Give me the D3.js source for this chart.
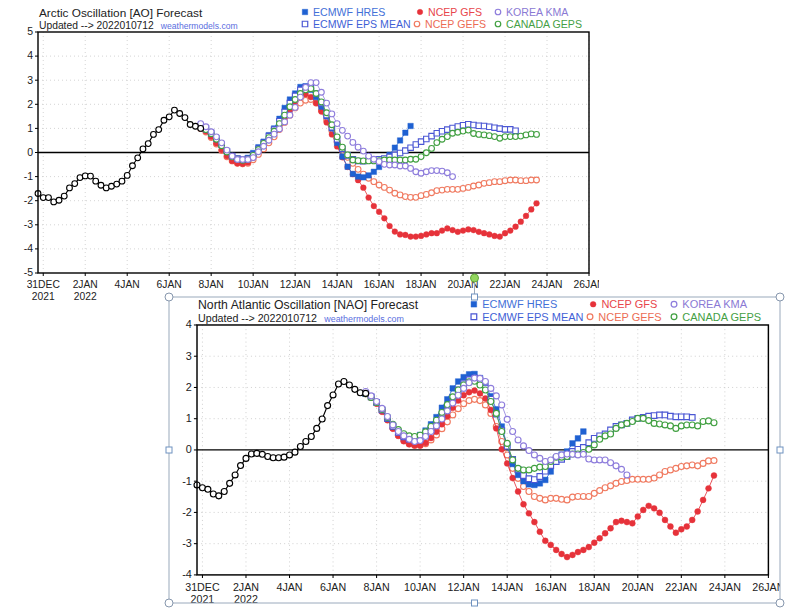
<!DOCTYPE html>
<html>
<head>
<meta charset="utf-8">
<script src="https://cdn.jsdelivr.net/npm/d3@7"></script>
<style>
    html, body { margin: 0; padding: 0; background: #fff; }
    svg { display: block; }
    .hdr { font-family: "Liberation Sans", Arial, sans-serif; fill: #222; }
    .lbl { font-family: "Liberation Sans", Arial, sans-serif; font-size: 10.5px; fill: #222; }
    .xl { font-size: 10.3px; }
</style>
</head>
<body>
<svg id="page" width="800" height="615"></svg>
<script>
// time axis (6-hourly steps)
const axisStart = Date.UTC(2021, 11, 30, 18);
const axisEnd = Date.UTC(2022, 0, 26, 0);
const analysisStart = Date.UTC(2021, 11, 30, 18);
const forecastStart = Date.UTC(2022, 0, 7, 12);
const stepHours = 6;

const tickDates = ["2021-12-31", "2022-01-02", "2022-01-04", "2022-01-06", "2022-01-08", "2022-01-10", "2022-01-12",
    "2022-01-14", "2022-01-16", "2022-01-18", "2022-01-20", "2022-01-22", "2022-01-24", "2022-01-26"];
const tickLabels = ["31DEC", "2JAN", "4JAN", "6JAN", "8JAN", "10JAN", "12JAN",
    "14JAN", "16JAN", "18JAN", "20JAN", "22JAN", "24JAN", "26JAN"];
const tickYears = ["2021", "2022"];

// ---- Arctic Oscillation ----
const aoAnalysis = [-1.70, -1.87, -1.87, -2.05, -1.98, -1.81, -1.47, -1.29, -1.04, -0.97, -0.98, -1.19, -1.36, -1.47, -1.40, -1.31,
    -1.19, -0.95, -0.55, -0.22, 0.15, 0.37, 0.75, 0.95, 1.34, 1.48, 1.76, 1.62, 1.45, 1.16, 1.09, 1.00];
const aoHres = [1.05, 0.95, 0.78, 0.55, 0.30, 0.05, -0.15, -0.25, -0.28, -0.22,
    -0.02, 0.22, 0.45, 0.72, 1.00, 1.40, 1.85, 2.20, 2.45, 2.72,
    2.75, 2.60, 2.30, 1.90, 1.50, 1.00, 0.40, -0.17, -0.59, -0.89,
    -1.00, -1.03, -0.95, -0.80, -0.60, -0.35, -0.10, 0.20, 0.50, 0.82,
    1.10];
const aoEpsMean = [1.10, 1.00, 0.82, 0.58, 0.32, 0.05, -0.15, -0.25, -0.30, -0.26,
    -0.10, 0.15, 0.40, 0.68, 0.95, 1.30, 1.68, 2.05, 2.35, 2.60,
    2.72, 2.70, 2.45, 2.05, 1.55, 1.05, 0.55, 0.15, -0.12, -0.28,
    -0.35, -0.36, -0.33, -0.30, -0.28, -0.25, -0.18, -0.10, -0.02, 0.08,
    0.20, 0.33, 0.45, 0.56, 0.68, 0.80, 0.88, 0.95, 1.02, 1.08,
    1.13, 1.17, 1.14, 1.11, 1.10, 1.07, 1.03, 0.99, 0.96, 0.96,
    0.90];
const aoGfs = [1.00, 0.88, 0.65, 0.38, 0.10, -0.15, -0.35, -0.45, -0.47, -0.42,
    -0.22, 0.05, 0.30, 0.55, 0.80, 1.10, 1.42, 1.75, 2.10, 2.35,
    2.42, 2.30, 2.05, 1.70, 1.25, 0.75, 0.25, -0.20, -0.60, -0.90,
    -1.15, -1.46, -1.87, -2.22, -2.46, -2.73, -3.05, -3.28, -3.40, -3.42,
    -3.49, -3.49, -3.46, -3.40, -3.35, -3.35, -3.24, -3.15, -3.22, -3.29,
    -3.24, -3.19, -3.22, -3.29, -3.35, -3.40, -3.46, -3.49, -3.35, -3.24,
    -3.08, -2.87, -2.63, -2.36, -2.11];
const aoGefs = [1.00, 0.85, 0.62, 0.35, 0.08, -0.18, -0.35, -0.45, -0.47, -0.45,
    -0.30, -0.08, 0.15, 0.40, 0.65, 0.95, 1.25, 1.55, 1.85, 2.05,
    2.17, 2.20, 2.05, 1.75, 1.35, 0.90, 0.45, 0.10, -0.20, -0.45,
    -0.70, -0.90, -1.07, -1.21, -1.35, -1.45, -1.56, -1.69, -1.76, -1.83,
    -1.86, -1.86, -1.79, -1.74, -1.67, -1.58, -1.56, -1.53, -1.53, -1.53,
    -1.49, -1.45, -1.39, -1.35, -1.28, -1.25, -1.21, -1.21, -1.17, -1.14,
    -1.14, -1.17, -1.17, -1.14, -1.14];
const aoKma = [1.20, 1.07, 0.86, 0.65, 0.40, 0.10, -0.15, -0.29, -0.29, -0.29,
    -0.21, 0.03, 0.26, 0.51, 0.76, 0.98, 1.27, 1.55, 1.87, 2.30,
    2.70, 2.90, 2.90, 2.50, 2.05, 1.60, 1.20, 0.92, 0.68, 0.42,
    0.22, 0.06, -0.15, -0.28, -0.38, -0.49, -0.52, -0.52, -0.56, -0.56,
    -0.66, -0.80, -0.86, -0.80, -0.75, -0.75, -0.77, -0.84, -1.00];
const aoGeps = [1.05, 0.95, 0.78, 0.55, 0.28, 0.02, -0.18, -0.28, -0.32, -0.28,
    -0.12, 0.12, 0.38, 0.62, 0.88, 1.20, 1.55, 1.90, 2.20, 2.45,
    2.60, 2.65, 2.45, 2.10, 1.65, 1.15, 0.65, 0.22, -0.10, -0.31,
    -0.34, -0.35, -0.35, -0.35, -0.34, -0.31, -0.31, -0.31, -0.31, -0.31,
    -0.28, -0.28, -0.17, -0.01, 0.17, 0.41, 0.55, 0.66, 0.80, 0.84,
    0.89, 0.93, 0.79, 0.75, 0.73, 0.70, 0.66, 0.59, 0.66, 0.66,
    0.66, 0.68, 0.73, 0.77, 0.75];

// ---- North Atlantic Oscillation ----
const naoAnalysis = [-1.12, -1.21, -1.26, -1.41, -1.47, -1.33, -1.07, -0.80, -0.50, -0.27, -0.13, -0.11, -0.14, -0.21, -0.25, -0.25,
    -0.23, -0.16, -0.07, 0.11, 0.27, 0.43, 0.69, 0.99, 1.42, 1.76, 2.11, 2.19, 2.08, 1.94, 1.83, 1.81];
const naoHres = [1.80, 1.70, 1.52, 1.28, 1.00, 0.75, 0.57, 0.45, 0.40, 0.40,
    0.48, 0.62, 0.82, 1.05, 1.35, 1.62, 1.97, 2.19, 2.33, 2.42,
    2.43, 2.30, 2.05, 1.72, 1.30, 0.75, 0.15, -0.45, -0.80, -1.00,
    -1.10, -1.12, -1.07, -0.96, -0.69, -0.32, -0.15, -0.05, 0.21, 0.37,
    0.59];
const naoEpsMean = [1.80, 1.70, 1.52, 1.28, 1.02, 0.76, 0.56, 0.42, 0.35, 0.32,
    0.36, 0.48, 0.66, 0.88, 1.12, 1.40, 1.68, 1.92, 2.12, 2.25,
    2.30, 2.20, 1.98, 1.62, 1.15, 0.62, 0.12, -0.30, -0.62, -0.82,
    -0.92, -0.95, -0.85, -0.68, -0.50, -0.37, -0.30, -0.21, -0.05, 0.02,
    0.08, 0.23, 0.37, 0.45, 0.51, 0.64, 0.75, 0.80, 0.85, 0.96,
    1.01, 1.04, 1.08, 1.10, 1.12, 1.12, 1.08, 1.06, 1.06, 1.06,
    1.04];
const naoGfs = [1.80, 1.68, 1.48, 1.22, 0.95, 0.68, 0.45, 0.28, 0.18, 0.14,
    0.14, 0.22, 0.38, 0.58, 0.82, 1.08, 1.35, 1.58, 1.75, 1.85,
    1.90, 1.81, 1.65, 1.28, 0.69, 0.02, -0.43, -0.90, -1.33, -1.74,
    -2.03, -2.31, -2.62, -2.91, -3.04, -3.20, -3.33, -3.43, -3.36, -3.27,
    -3.20, -3.11, -2.97, -2.83, -2.67, -2.51, -2.31, -2.27, -2.31, -2.35,
    -2.13, -1.92, -1.79, -1.87, -2.01, -2.24, -2.45, -2.65, -2.54, -2.45,
    -2.24, -1.97, -1.60, -1.23, -0.82];
const naoGefs = [1.80, 1.68, 1.50, 1.25, 0.98, 0.70, 0.47, 0.30, 0.20, 0.15,
    0.15, 0.20, 0.32, 0.48, 0.68, 0.90, 1.12, 1.32, 1.48, 1.58,
    1.62, 1.58, 1.44, 1.17, 0.75, 0.27, -0.16, -0.59, -0.91, -1.17,
    -1.33, -1.49, -1.55, -1.60, -1.55, -1.55, -1.58, -1.60, -1.51, -1.49,
    -1.49, -1.49, -1.39, -1.30, -1.21, -1.15, -1.07, -1.01, -0.98, -0.94,
    -0.94, -0.94, -0.94, -0.90, -0.80, -0.69, -0.64, -0.59, -0.53, -0.51,
    -0.48, -0.51, -0.43, -0.35, -0.34];
const naoKma = [1.87, 1.73, 1.55, 1.33, 1.07, 0.80, 0.59, 0.45, 0.34, 0.27,
    0.30, 0.43, 0.59, 0.77, 0.99, 1.25, 1.50, 1.75, 1.97, 2.15,
    2.30, 2.29, 2.19, 1.97, 1.73, 1.44, 0.98, 0.59, 0.32, 0.13,
    -0.02, -0.16, -0.27, -0.37, -0.32, -0.21, -0.16, -0.13, -0.14, -0.16,
    -0.14, -0.29, -0.32, -0.32, -0.32, -0.41, -0.51, -0.62, -0.80];
const naoGeps = [1.80, 1.68, 1.52, 1.30, 1.05, 0.82, 0.65, 0.52, 0.45, 0.43,
    0.47, 0.58, 0.75, 0.95, 1.20, 1.45, 1.70, 1.92, 2.08, 2.18,
    2.20, 2.08, 1.92, 1.55, 1.17, 0.59, 0.21, -0.32, -0.59, -0.64,
    -0.64, -0.59, -0.55, -0.53, -0.37, -0.23, -0.23, -0.21, -0.13, -0.13,
    -0.08, 0.02, 0.16, 0.34, 0.45, 0.51, 0.69, 0.80, 0.85, 0.91,
    1.01, 1.01, 0.94, 0.85, 0.83, 0.80, 0.77, 0.69, 0.77, 0.80,
    0.80, 0.77, 0.91, 0.93, 0.87];

// model styling
const models = {
    hres: { name: "ECMWF HRES", color: "#1f61d2", text: "#4370d8", mark: "square", filled: true },
    eps: { name: "ECMWF EPS MEAN", color: "#4b57d4", text: "#3f5fd6", mark: "square", filled: false },
    gfs: { name: "NCEP GFS", color: "#e6323a", text: "#e8454b", mark: "circle", filled: true },
    gefs: { name: "NCEP GEFS", color: "#f07a60", text: "#ec6c54", mark: "circle", filled: false },
    kma: { name: "KOREA KMA", color: "#8e7ddc", text: "#8a79d4", mark: "circle", filled: false },
    geps: { name: "CANADA GEPS", color: "#41a041", text: "#45a045", mark: "circle", filled: false }
};
const legendLayout = [
    { key: "hres", x: 305, row: 0 }, { key: "gfs", x: 420, row: 0 }, { key: "kma", x: 498, row: 0 },
    { key: "eps", x: 305, row: 1 }, { key: "gefs", x: 417, row: 1 }, { key: "geps", x: 498, row: 1 }
];

const plot = { left: 38, right: 589, top: 32, bottom: 273 };
const hour = 3600 * 1000;

function markerPath(type, size) {
    const shape = type === "square" ? d3.symbolSquare : d3.symbolCircle;
    return d3.symbol(shape, size)();
}

function drawSeries(g, x, y, values, start, style) {
    const pts = values.map((v, k) => ({ t: new Date(start + k * stepHours * hour), v }));
    g.append("path")
        .attr("d", d3.line().x(d => x(d.t)).y(d => y(d.v))(pts))
        .attr("fill", "none")
        .attr("stroke", style.color)
        .attr("stroke-width", style.lineWidth || 0.8);
    const size = style.mark === "square" ? 30 : 26;
    g.append("g").selectAll("path")
        .data(pts)
        .join("path")
        .attr("transform", d => `translate(${x(d.t)},${y(d.v)})`)
        .attr("d", markerPath(style.mark, size))
        .attr("fill", style.filled ? style.color : "#fff")
        .attr("stroke", style.color)
        .attr("stroke-width", style.filled ? 0.4 : 1.1);
}

function drawChart(g, cfg) {
    const x = d3.scaleUtc().domain([axisStart, axisEnd]).range([plot.left, plot.right]);
    const y = d3.scaleLinear().domain(cfg.yDomain).range([plot.bottom, plot.top]);
    const tickTimes = tickDates.map(s => new Date(s + "T00:00:00Z"));
    const yTicks = d3.range(cfg.yDomain[0], cfg.yDomain[1] + 1);

    // header
    g.append("text").attr("class", "hdr").attr("x", 39).attr("y", 16.8)
        .attr("font-size", 11.8).text(cfg.title);
    const upd = g.append("text").attr("class", "hdr").attr("x", 39).attr("y", 29.2)
        .attr("font-size", 10.3).text("Updated --> 2022010712");
    const updW = upd.node().getComputedTextLength();
    g.append("text").attr("x", 39 + updW + 7).attr("y", 29.2)
        .attr("font-family", "Liberation Sans, Arial, sans-serif").attr("font-size", 8.6)
        .attr("fill", "#5a6ee0").text("weathermodels.com");

    legendLayout.forEach(item => {
        const m = models[item.key];
        const cy = item.row === 0 ? 12 : 24;
        g.append("path")
            .attr("transform", `translate(${item.x},${cy})`)
            .attr("d", markerPath(m.mark, m.mark === "square" ? 30 : 24))
            .attr("fill", m.filled ? m.color : "#fff")
            .attr("stroke", m.color)
            .attr("stroke-width", m.filled ? 0.4 : 1.2);
        g.append("text").attr("class", "hdr").attr("x", item.x + 8).attr("y", cy + 3.8)
            .attr("font-size", 10.6).style("fill", m.text).text(m.name);
    });

    // grid
    const grid = g.append("g").attr("stroke", "#c9c9c9").attr("stroke-width", 0.8).attr("stroke-dasharray", "1,3");
    grid.selectAll("line.v").data(tickTimes).join("line").attr("class", "v")
        .attr("x1", d => x(d)).attr("x2", d => x(d)).attr("y1", plot.top).attr("y2", plot.bottom);
    grid.selectAll("line.h").data(yTicks.filter(v => v !== 0 && v !== cfg.yDomain[0] && v !== cfg.yDomain[1]))
        .join("line").attr("class", "h")
        .attr("x1", plot.left).attr("x2", plot.right).attr("y1", d => y(d)).attr("y2", d => y(d));

    // zero line
    g.append("line").attr("x1", plot.left).attr("x2", plot.right).attr("y1", y(0)).attr("y2", y(0))
        .attr("stroke", "#000").attr("stroke-width", 1.3);

    // y axis ticks
    const ya = g.append("g");
    ya.selectAll("line").data(yTicks).join("line")
        .attr("x1", plot.left - 3).attr("x2", plot.left).attr("y1", d => y(d)).attr("y2", d => y(d))
        .attr("stroke", "#000").attr("stroke-width", 1);
    ya.selectAll("text").data(yTicks).join("text").attr("class", "lbl")
        .attr("x", plot.left - 5).attr("y", d => y(d) + 3.3).attr("text-anchor", "end").text(d => d);

    // x axis ticks
    const xa = g.append("g");
    xa.selectAll("line").data(tickTimes).join("line")
        .attr("x1", d => x(d)).attr("x2", d => x(d)).attr("y1", plot.bottom).attr("y2", plot.bottom + 3)
        .attr("stroke", "#000").attr("stroke-width", 1);
    xa.selectAll("text.day").data(tickTimes).join("text").attr("class", "lbl xl day")
        .attr("x", d => x(d)).attr("y", plot.bottom + 15.2).attr("text-anchor", "middle")
        .text((d, i) => tickLabels[i]);
    xa.selectAll("text.yr").data(tickYears).join("text").attr("class", "lbl xl yr")
        .attr("x", (d, i) => x(tickTimes[i])).attr("y", plot.bottom + 26.8).attr("text-anchor", "middle")
        .text(d => d);

    // forecasts
    const sg = g.append("g");
    cfg.series.forEach(s => drawSeries(sg, x, y, s.values, forecastStart, models[s.key]));
    drawSeries(sg, x, y, cfg.analysis, analysisStart,
        { color: "#000", mark: "circle", filled: false, lineWidth: 1.1 });

    // frame
    g.append("rect").attr("x", plot.left).attr("y", plot.top)
        .attr("width", plot.right - plot.left).attr("height", plot.bottom - plot.top)
        .attr("fill", "none").attr("stroke", "#000").attr("stroke-width", 1.4);
}

const page = d3.select("#page");
page.append("rect").attr("width", 800).attr("height", 615).attr("fill", "#fff");
const defs = page.append("defs");
defs.append("clipPath").attr("id", "clipAo").append("rect").attr("x", 0).attr("y", 0).attr("width", 599).attr("height", 303);
const box = { x: 169, y: 297, w: 611, h: 306 };
defs.append("clipPath").attr("id", "clipNao").append("rect")
    .attr("x", box.x).attr("y", box.y).attr("width", box.w).attr("height", box.h);

drawChart(page.append("g").attr("clip-path", "url(#clipAo)"), {
    title: "Arctic Oscillation [AO] Forecast",
    yDomain: [-5, 5],
    analysis: aoAnalysis,
    series: [
        { key: "gefs", values: aoGefs }, { key: "gfs", values: aoGfs },
        { key: "hres", values: aoHres }, { key: "eps", values: aoEpsMean },
        { key: "geps", values: aoGeps }, { key: "kma", values: aoKma }
    ]
});

const naoOuter = page.append("g").attr("clip-path", "url(#clipNao)");
naoOuter.append("rect").attr("x", box.x).attr("y", box.y).attr("width", box.w).attr("height", box.h).attr("fill", "#fff");
drawChart(naoOuter.append("g").attr("transform", "translate(157.6,291.8) scale(1.037)"), {
    title: "North Atlantic Oscillation [NAO] Forecast",
    yDomain: [-4, 4],
    analysis: naoAnalysis,
    series: [
        { key: "gefs", values: naoGefs }, { key: "gfs", values: naoGfs },
        { key: "hres", values: naoHres }, { key: "eps", values: naoEpsMean },
        { key: "geps", values: naoGeps }, { key: "kma", values: naoKma }
    ]
});

// selection frame round the pasted NAO picture
const sel = page.append("g");
const cx = box.x + box.w / 2, cy = box.y + box.h / 2;
sel.append("rect").attr("x", box.x).attr("y", box.y).attr("width", box.w).attr("height", box.h)
    .attr("fill", "none").attr("stroke", "#9aa9bc").attr("stroke-width", 1);
sel.append("line").attr("x1", cx).attr("x2", cx).attr("y1", 282).attr("y2", box.y)
    .attr("stroke", "#9aa9bc").attr("stroke-width", 1);
sel.append("circle").attr("cx", cx).attr("cy", 278).attr("r", 4)
    .attr("fill", "#93d65e").attr("stroke", "#62a83c").attr("stroke-width", 1);
[[box.x, box.y], [box.x + box.w, box.y], [box.x, box.y + box.h], [box.x + box.w, box.y + box.h]].forEach(([px, py]) => {
    sel.append("circle").attr("cx", px).attr("cy", py).attr("r", 4)
        .attr("fill", "#fff").attr("stroke", "#8797ad").attr("stroke-width", 1);
});
[[cx, box.y], [cx, box.y + box.h], [box.x, cy], [box.x + box.w, cy]].forEach(([px, py]) => {
    sel.append("rect").attr("x", px - 3).attr("y", py - 3).attr("width", 6).attr("height", 6)
        .attr("fill", "#fff").attr("stroke", "#6f92c0").attr("stroke-width", 1);
});
</script>
</body>
</html>
